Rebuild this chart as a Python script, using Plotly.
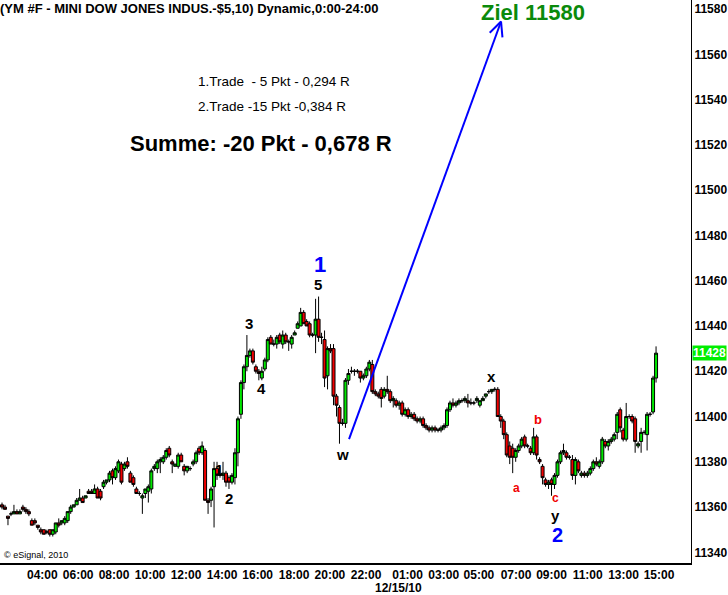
import plotly.graph_objects as go
import math

opens = [11361,11360,11356,11357,11357,11358,11357,11360,11359,11358,11354,11354,11352,11350,11350,11349,11350,11348,11349,11353,
11353,11353,11354,11358,11360,11361,11363,11364,11364,11367,11367,11366,11368,11367,11369,11371,11372,11376,11373,11376,
11379,11377,11380,11375,11373,11368,11366,11364,11366,11367,11368,11377,11377,11380,11380,11382,11386,11380,11378,11378,
11383,11378,11376,11377,11379,11380,11386,11384,11385,11363,11363,11369,11377,11374,11374,11375,11373,11371,11373,11384,
11401,11415,11422,11427,11429,11422,11420,11417,11421,11425,11435,11432,11432,11436,11432,11436,11433,11432,11436,11439,
11440,11446,11442,11441,11436,11436,11443,11435,11434,11418,11430,11430,11409,11404,11397,11397,11416,11420,11420,11420,
11420,11417,11418,11421,11423,11411,11410,11412,11409,11412,11411,11407,11407,11405,11406,11401,11403,11400,11401,11399,
11398,11399,11396,11395,11394,11395,11394,11394,11395,11396,11403,11406,11405,11406,11407,11407,11407,11406,11406,11407,
11405,11407,11409,11411,11411,11412,11412,11400,11398,11392,11387,11386,11382,11385,11387,11391,11387,11386,11384,11391,
11381,11378,11372,11370,11372,11370,11374,11380,11384,11384,11382,11381,11374,11380,11374,11375,11374,11375,11377,11380,
11378,11380,11389,11387,11389,11390,11393,11403,11394,11390,11400,11400,11399,11387,11389,11393,11392,11401,11402,11417]
highs = [11362,11361,11356,11358,11361,11359,11359,11361,11360,11359,11355,11355,11352,11351,11350,11350,11350,11350,11353,11355,
11354,11356,11358,11361,11361,11364,11368,11365,11365,11368,11368,11370,11369,11368,11372,11372,11376,11377,11378,11381,
11380,11380,11382,11376,11374,11369,11367,11366,11368,11370,11377,11379,11381,11382,11383,11386,11387,11381,11379,11384,
11384,11379,11378,11378,11381,11385,11387,11389,11386,11364,11369,11380,11380,11378,11380,11376,11374,11375,11386,11400,
11416,11423,11436,11430,11430,11423,11421,11422,11426,11435,11436,11434,11436,11437,11438,11437,11434,11436,11438,11442,
11448,11447,11443,11442,11437,11452,11453,11437,11438,11431,11432,11432,11410,11405,11399,11417,11421,11422,11421,11421,
11420,11419,11422,11425,11425,11412,11411,11413,11413,11418,11412,11409,11408,11407,11407,11404,11404,11402,11402,11400,
11400,11400,11397,11396,11396,11396,11395,11396,11397,11404,11407,11408,11407,11408,11408,11409,11410,11408,11407,11409,
11407,11409,11410,11412,11412,11413,11413,11401,11399,11393,11389,11388,11386,11388,11391,11392,11388,11387,11395,11392,
11382,11379,11373,11372,11373,11375,11381,11385,11388,11385,11383,11383,11382,11381,11376,11376,11376,11378,11381,11382,
11381,11391,11390,11390,11391,11393,11402,11404,11395,11406,11401,11401,11400,11389,11395,11394,11402,11402,11418,11431]
lows = [11359,11359,11352,11356,11357,11357,11357,11358,11357,11356,11352,11352,11350,11348,11348,11348,11347,11347,11348,11351,
11352,11352,11353,11357,11360,11361,11363,11362,11364,11366,11366,11366,11364,11363,11368,11370,11371,11370,11372,11375,
11370,11376,11377,11371,11369,11366,11365,11357,11364,11362,11366,11376,11375,11375,11379,11381,11382,11375,11378,11377,
11380,11374,11375,11376,11378,11379,11383,11383,11363,11357,11360,11351,11372,11373,11372,11369,11368,11370,11370,11378,
11399,11412,11420,11426,11423,11419,11416,11416,11420,11424,11432,11431,11430,11432,11430,11432,11429,11430,11436,11439,
11440,11441,11440,11435,11435,11428,11433,11432,11413,11412,11428,11405,11400,11388,11396,11395,11414,11419,11418,11419,
11415,11416,11417,11420,11410,11409,11408,11404,11408,11410,11406,11404,11404,11403,11400,11400,11399,11399,11398,11397,
11397,11395,11394,11393,11393,11393,11393,11393,11394,11395,11402,11404,11404,11405,11406,11406,11404,11405,11405,11406,
11404,11407,11408,11410,11410,11411,11400,11395,11390,11382,11379,11375,11380,11384,11386,11386,11386,11383,11383,11381,
11379,11370,11369,11368,11365,11368,11373,11379,11383,11381,11381,11372,11370,11375,11373,11373,11373,11374,11376,11378,
11377,11379,11386,11385,11388,11389,11390,11393,11389,11389,11399,11397,11384,11386,11384,11392,11385,11400,11401,11415]
closes = [11360,11359,11355,11357,11358,11357,11358,11359,11358,11357,11352,11353,11351,11349,11348,11349,11348,11350,11353,11352,
11354,11355,11358,11360,11361,11363,11364,11362,11365,11366,11366,11368,11364,11364,11371,11372,11375,11373,11377,11380,
11371,11379,11378,11371,11370,11366,11366,11365,11368,11369,11376,11378,11380,11381,11382,11385,11383,11379,11379,11383,
11380,11376,11378,11377,11380,11384,11384,11387,11363,11362,11368,11377,11374,11374,11375,11371,11371,11374,11384,11399,
11415,11422,11427,11429,11424,11420,11419,11420,11425,11434,11432,11432,11435,11433,11436,11433,11433,11435,11437,11441,
11446,11441,11440,11436,11436,11443,11435,11435,11417,11430,11429,11409,11405,11397,11397,11416,11419,11420,11420,11420,
11417,11418,11421,11424,11411,11410,11409,11408,11412,11411,11407,11408,11405,11406,11401,11403,11400,11401,11399,11398,
11399,11396,11395,11394,11395,11394,11394,11395,11396,11403,11406,11405,11406,11407,11407,11408,11406,11406,11406,11408,
11407,11408,11410,11411,11412,11412,11400,11398,11392,11383,11382,11382,11385,11387,11390,11387,11387,11384,11391,11383,
11380,11373,11370,11371,11370,11374,11380,11384,11385,11382,11382,11374,11381,11376,11375,11374,11375,11377,11380,11379,
11380,11390,11387,11389,11390,11392,11401,11395,11390,11400,11400,11398,11389,11388,11393,11393,11401,11401,11417,11428]

tick_labels = ["04:00","06:00","08:00","10:00","12:00","14:00","16:00","18:00","20:00","22:00",
               "01:00","03:00","05:00","07:00","09:00","11:00","13:00","15:00"]
tick_bar = [13.5,25.5,37.5,49.6,61.6,73.7,85.6,97.8,109.8,121.9,135.8,147.9,159.7,172.1,184.0,196.1,208.1,220.0]
price_ticks = list(range(11340, 11600, 20))
last_price = 11428
target_price = 11580

bars = list(range(len(closes)))

W, H = 728, 595
ML, MR, MT, MB = 0, 37, 0, 32
PW, PH = W - ML - MR, H - MT - MB
XR = [-0.67, 230.7]
YR = [11335.3, 11584.0]

def px(x):
    return ML + (x - XR[0]) / (XR[1] - XR[0]) * PW

def py(y):
    return MT + (YR[1] - y) / (YR[1] - YR[0]) * PH

fig = go.Figure()
fig.add_trace(go.Candlestick(
    x=bars, open=opens, high=highs, low=lows, close=closes,
    increasing=dict(line=dict(color="black", width=1), fillcolor="#00E600"),
    decreasing=dict(line=dict(color="black", width=1), fillcolor="#F00000"),
    whiskerwidth=0, showlegend=False, hoverinfo="skip"))

FONT = "Liberation Sans, Arial, sans-serif"
ann = []
def txt(xp, yp, s, size, color="black", bold=True, anchor="center"):
    ann.append(dict(xref="paper", yref="paper", x=xp / PW, y=1 - yp / PH, text=(f"<b>{s}</b>" if bold else s),
                    showarrow=False, xanchor=anchor, yanchor="middle",
                    font=dict(family=FONT, size=size, color=color)))

txt(-2, 8, "(YM #F - MINI DOW JONES INDUS.-$5,10) Dynamic,0:00-24:00", 13, anchor="left")
txt(533, 12, f"Ziel {target_price}", 22, color="#0B8A0B")
txt(196, 82, "1.Trade  - 5 Pkt - 0,294 R", 13.5, bold=False, anchor="left")
txt(196, 106, "2.Trade -15 Pkt -0,384 R", 13.5, bold=False, anchor="left")
txt(261, 143, "Summe: -20 Pkt - 0,678 R", 22)
txt(320, 265, "1", 22, color="#0000FF")
txt(318, 284, "5", 15)
txt(249, 323, "3", 15)
txt(261, 388, "4", 15)
txt(219, 469, "1", 15)
txt(229, 498, "2", 15)
txt(342, 454, "w", 15)
txt(492, 376, "x", 15)
txt(516, 488, "a", 12, color="#F00000")
txt(538, 419, "b", 13, color="#F00000")
txt(555, 498, "c", 12, color="#F00000")
txt(555, 515, "y", 15)
txt(557, 535, "2", 20, color="#0000FF")
txt(2, 555, "© eSignal, 2010", 9, bold=False, anchor="left")

ann.append(dict(xref="paper", yref="paper", x=398 / PW, y=0, yshift=-25, text="<b>12/15/10</b>",
                showarrow=False, xanchor="center", yanchor="middle",
                font=dict(family=FONT, size=12, color="black")))
ann.append(dict(xref="paper", yref="y", x=1, y=last_price, xshift=1, text=f"<b>{last_price}</b>",
                showarrow=False, xanchor="left", yanchor="middle", bgcolor="#00EE00", borderpad=0,
                font=dict(family=FONT, size=12, color="white")))

tail = (116.2, 11390.0)
tip = (167.1, 11574.5)
shapes = [dict(type="line", xref="x", yref="y", x0=tail[0], y0=tail[1], x1=tip[0], y1=tip[1],
               line=dict(color="#0000FF", width=2))]
dx, dy = px(tip[0]) - px(tail[0]), py(tip[1]) - py(tail[1])
L = math.hypot(dx, dy)
ux, uy = -dx / L, -dy / L
for ang in (25, -25):
    a = math.radians(ang)
    wx = ux * math.cos(a) - uy * math.sin(a)
    wy = ux * math.sin(a) + uy * math.cos(a)
    shapes.append(dict(type="line", xref="x", yref="y", xsizemode="pixel", ysizemode="pixel",
                       xanchor=tip[0], yanchor=tip[1], x0=0, y0=0, x1=wx * 16, y1=-wy * 16,
                       line=dict(color="#0000FF", width=2)))

fig.update_layout(
    width=W, height=H, margin=dict(l=ML, r=MR, t=MT, b=MB),
    paper_bgcolor="white", plot_bgcolor="white", showlegend=False,
    annotations=ann, shapes=shapes,
    xaxis=dict(range=XR, rangeslider=dict(visible=False), showgrid=False, zeroline=False,
               showline=True, linecolor="black", linewidth=2, ticks="",
               tickmode="array", tickvals=tick_bar, ticktext=[f"<b>{t}</b>" for t in tick_labels],
               tickfont=dict(family=FONT, size=12, color="black")),
    yaxis=dict(range=YR, side="right", showgrid=False, zeroline=False,
               showline=True, linecolor="black", linewidth=1, ticks="",
               tickmode="array", tickvals=price_ticks, ticktext=[f"<b>{v}</b>" for v in price_ticks],
               tickfont=dict(family=FONT, size=12, color="black")),
    boxgap=0, boxgroupgap=0,
)
fig.write_html("out.html", config={"displayModeBar": False},
               post_script="document.body.style.margin='0px';document.body.style.overflow='hidden';")
